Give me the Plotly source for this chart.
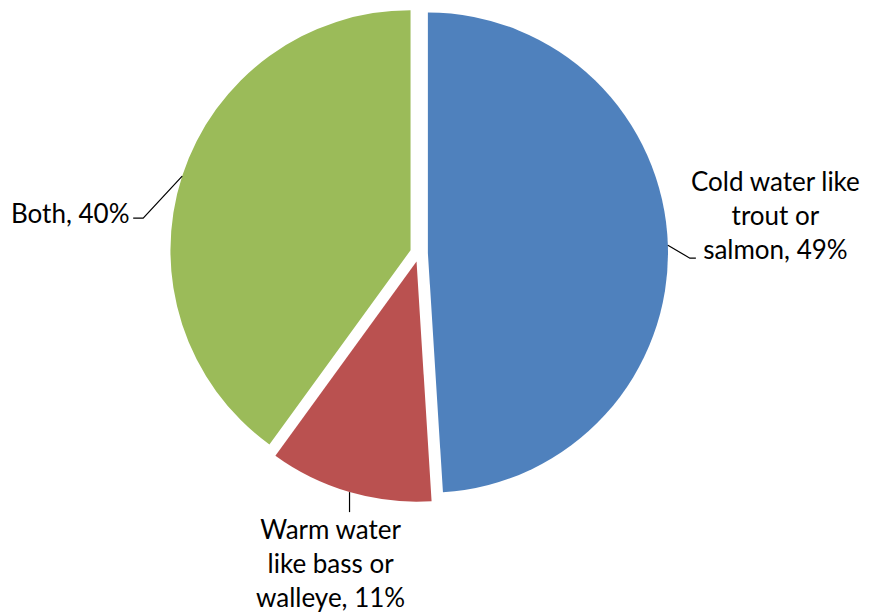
import math
import plotly.graph_objects as go

labels = ["Cold water like trout or salmon", "Warm water like bass or walleye", "Both"]
label_text = ["Cold water like<br>trout or<br>salmon, 49%", "Warm water<br>like bass or<br>walleye, 11%", "Both, 40%"]
values = [49, 11, 40]
colors = ["#4F81BD", "#BA5150", "#9BBB59"]

W, H = 872, 616
PULL = 0.037
CX, CY = 419, 253          # pie centre in pixels
HALF = 249                 # half of domain size in pixels
R = HALF / (1 + PULL)

# label placement style (pixel offsets from leader start)
leader_style = [
    dict(seg=[(22, 13), (6, 0)], text=(108, -30), xanchor="center"),
    dict(seg=[(0, 20)], text=(-19, 71), xanchor="center"),
    dict(seg=[(-39, 42), (-10, 0)], text=(-50, 37), xanchor="right"),
]

fig = go.Figure(go.Pie(
    labels=labels, values=values, sort=False, direction="clockwise", rotation=0,
    marker=dict(colors=colors, line=dict(width=0)),
    pull=[PULL] * len(values), textinfo="none", hoverinfo="label+percent",
    domain=dict(x=[(CX - HALF) / W, (CX + HALF) / W], y=[1 - (CY + HALF) / H, 1 - (CY - HALF) / H]),
    showlegend=False,
))

def px2p(x, y):
    return x / W, 1 - y / H

total = sum(values)
cum = 0
annotations = []
shapes = []
for v, txt, st in zip(values, label_text, leader_style):
    mid = (cum + v / 2) / total * 2 * math.pi
    cum += v
    dx, dy = math.sin(mid), -math.cos(mid)
    ex, ey = CX + R * (1 + PULL) * dx, CY + R * (1 + PULL) * dy
    pts = [(ex, ey)]
    x, y = ex, ey
    for sx, sy in st["seg"]:
        x, y = x + sx, y + sy
        pts.append((x, y))
    path = "M " + " L ".join("%f,%f" % px2p(px, py) for px, py in pts)
    shapes.append(dict(type="path", path=path, xref="paper", yref="paper",
                       line=dict(color="black", width=1.2)))
    tx, ty = ex + st["text"][0], ey + st["text"][1]
    ax_, ay_ = px2p(tx, ty)
    annotations.append(dict(text=txt, x=ax_, y=ay_, xref="paper", yref="paper",
                            xanchor=st["xanchor"], yanchor="middle", showarrow=False,
                            align="center", font=dict(family="Lato", size=26, color="black")))

fig.update_layout(width=W, height=H, margin=dict(l=0, r=0, t=0, b=0),
                  paper_bgcolor="white", plot_bgcolor="white",
                  annotations=annotations, shapes=shapes)
fig.write_html("out.html")
